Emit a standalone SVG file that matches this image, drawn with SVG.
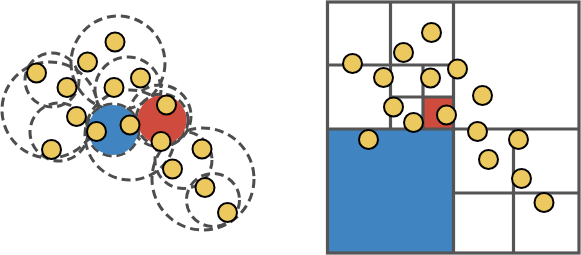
<svg xmlns="http://www.w3.org/2000/svg" width="581" height="255" viewBox="0 0 581 255">
<style>
.pt{fill:#ecc95f;stroke:#000;stroke-width:2}
.ball{fill:none;stroke:#4d4d4d;stroke-width:3;stroke-dasharray:9 5}
.ln{stroke:#555;stroke-width:3.2;fill:none}
</style>
<rect width="581" height="255" fill="#fff"/>
<g id="balls">
<circle class="ball" cx="118" cy="63" r="47"/>
<circle class="ball" cx="128" cy="90" r="33"/>
<circle class="ball" cx="52" cy="80" r="27"/>
<circle class="ball" cx="50" cy="110" r="48"/>
<circle class="ball" cx="59" cy="132" r="29"/>
<circle class="ball" cx="130" cy="135" r="45"/>
<circle class="ball" cx="160" cy="116" r="31"/>
<circle class="ball" cx="203" cy="179" r="51"/>
<circle class="ball" cx="183.5" cy="160" r="28.5"/>
<circle class="ball" cx="213" cy="200" r="26.5"/>
<circle class="ball" cx="113" cy="130" r="26"/>
<circle class="ball" cx="162" cy="120" r="26"/>
</g>
<g id="query-blue"><circle cx="113" cy="130" r="25" fill="#4084c1"/></g>
<g id="query-red"><circle cx="162" cy="120" r="24.5" fill="#cf4b3d"/></g>
<g id="points-left">
<circle class="pt" cx="115" cy="42" r="9.5"/>
<circle class="pt" cx="87.5" cy="62" r="9.5"/>
<circle class="pt" cx="36.5" cy="73" r="9.5"/>
<circle class="pt" cx="67" cy="87.5" r="9.5"/>
<circle class="pt" cx="114" cy="87.5" r="9.5"/>
<circle class="pt" cx="140.5" cy="78" r="9.5"/>
<circle class="pt" cx="166.5" cy="105" r="9.5"/>
<circle class="pt" cx="76.5" cy="116.5" r="9.5"/>
<circle class="pt" cx="96.5" cy="131.5" r="9.5"/>
<circle class="pt" cx="130" cy="125" r="9.5"/>
<circle class="pt" cx="51.5" cy="149.5" r="9.5"/>
<circle class="pt" cx="161" cy="141.5" r="9.5"/>
<circle class="pt" cx="202" cy="149" r="9.5"/>
<circle class="pt" cx="172.5" cy="169" r="9.5"/>
<circle class="pt" cx="205" cy="187.5" r="9.5"/>
<circle class="pt" cx="227.5" cy="212.5" r="9.5"/>
</g>
<g id="quadtree">
<rect x="328" y="129" width="125.5" height="124" fill="#4084c1"/>
<rect x="423" y="97" width="30.5" height="32" fill="#cf4b3d"/>
<rect class="ln" x="327.5" y="2" width="251.5" height="251"/>
<line class="ln" x1="453.5" y1="2" x2="453.5" y2="253"/>
<line class="ln" x1="327.5" y1="129" x2="579" y2="129"/>
<line class="ln" x1="390.5" y1="2" x2="390.5" y2="129"/>
<line class="ln" x1="327.5" y1="65" x2="453.5" y2="65"/>
<line class="ln" x1="423" y1="65" x2="423" y2="129"/>
<line class="ln" x1="390.5" y1="97" x2="453.5" y2="97"/>
<line class="ln" x1="513.5" y1="129" x2="513.5" y2="253"/>
<line class="ln" x1="453.5" y1="193" x2="579" y2="193"/>
</g>
<g id="points-right">
<circle class="pt" cx="431.5" cy="32.5" r="9.5"/>
<circle class="pt" cx="403.5" cy="52.5" r="9.5"/>
<circle class="pt" cx="352.5" cy="63.5" r="9.5"/>
<circle class="pt" cx="383.5" cy="77.5" r="9.5"/>
<circle class="pt" cx="430.5" cy="78" r="9.5"/>
<circle class="pt" cx="457.5" cy="69" r="9.5"/>
<circle class="pt" cx="482.5" cy="95.5" r="9.5"/>
<circle class="pt" cx="393.5" cy="107" r="9.5"/>
<circle class="pt" cx="413.5" cy="122.5" r="9.5"/>
<circle class="pt" cx="446.5" cy="115" r="9.5"/>
<circle class="pt" cx="368.5" cy="139.5" r="9.5"/>
<circle class="pt" cx="477.5" cy="131.5" r="9.5"/>
<circle class="pt" cx="518.5" cy="139.5" r="9.5"/>
<circle class="pt" cx="488.5" cy="159.5" r="9.5"/>
<circle class="pt" cx="521.5" cy="178.5" r="9.5"/>
<circle class="pt" cx="544" cy="202.5" r="9.5"/>
</g>
</svg>
